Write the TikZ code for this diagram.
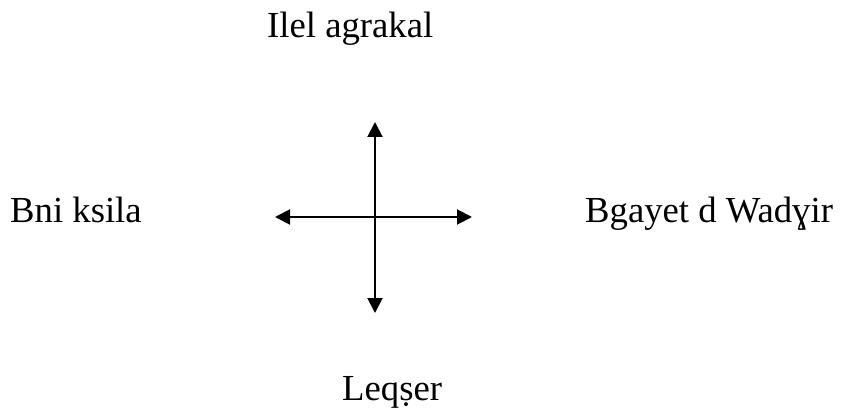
\documentclass[tikz,border=0pt]{standalone}
\usepackage{fontspec}
\setmainfont{Liberation Serif}
\usetikzlibrary{arrows.meta}
\tikzset{
  lbl/.style={anchor=base west, inner sep=0pt, font=\fontsize{36.7}{44}\selectfont},
  arr/.style={line width=2pt, {Triangle[length=15pt,width=15pt]}-{Triangle[length=15pt,width=15pt]}}
}
\begin{document}
\begin{tikzpicture}[x=1pt,y=1pt]
\useasboundingbox (0,0) rectangle (843,-409);
\node[lbl] (top) at (267,-38) {Ilel agrakal};
\node[lbl] (left) at (10,-222) {Bni ksila};
\node[lbl] (right) at (585,-222) {Bgayet d Wadɣir};
\node[lbl] (bottom) at (342,-400) {Leqṣer};
\coordinate (n) at (375,-122);
\coordinate (s) at (375,-313);
\coordinate (w) at (275,-217);
\coordinate (e) at (472,-217);
\draw[arr] (w) -- (e);
\draw[arr] (n) -- (s);
\end{tikzpicture}
\end{document}
